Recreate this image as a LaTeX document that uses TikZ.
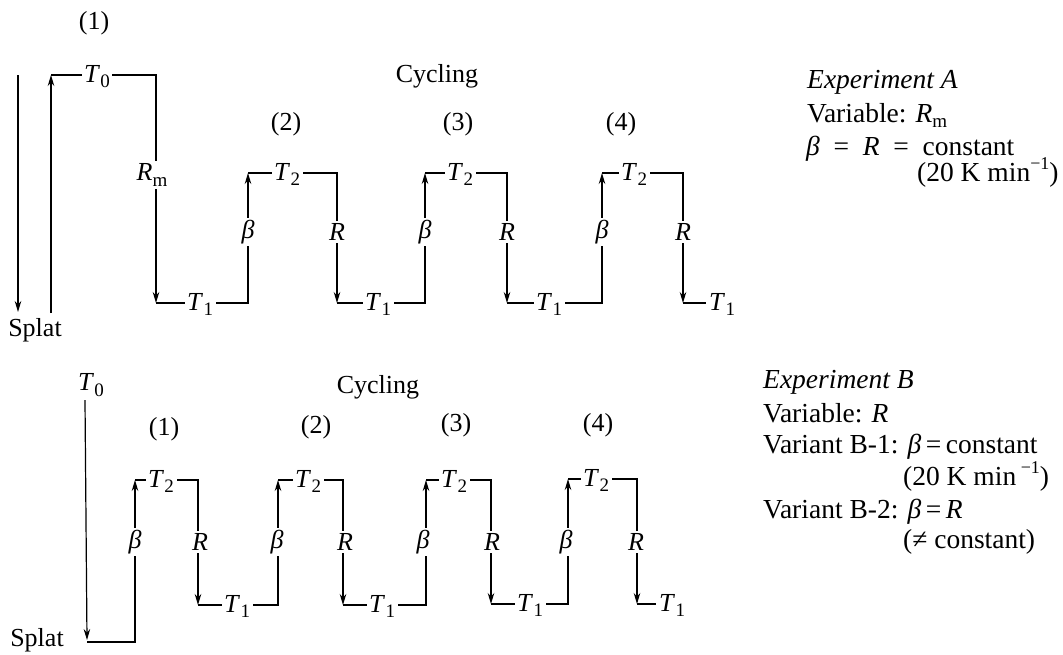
\documentclass[tikz,border=0pt]{standalone}
\usepackage{fontspec}
\setmainfont{Liberation Serif}
\usetikzlibrary{arrows.meta}
\tikzset{
  ln/.style={line width=1.2pt},
  arr/.style={ln,-{Stealth[length=11pt,width=6.5pt]}},
  lab/.style={fill=white,inner sep=2.5pt,font=\fontsize{26}{30}\selectfont},
  tl/.style={lab,anchor=base},
  num/.style={inner sep=0pt,font=\fontsize{26}{30}\selectfont},
  txt/.style={inner sep=0pt,anchor=base west,font=\fontsize{27.5}{30}\selectfont},
}
\newcommand\sbs[1]{\raisebox{-0.2em}{\fontsize{19}{20}\selectfont #1}}
\newcommand\sps[1]{\raisebox{0.42em}{\fontsize{18}{20}\selectfont #1}}
\newcommand\Tl[1]{\textit{T}\kern0.5pt\sbs{#1}}
\begin{document}
\begin{tikzpicture}[x=1pt,y=-1pt]
\useasboundingbox (0,0) rectangle (1063,654);
% ---------- top diagram ----------
\coordinate (a1) at (18,75);  \coordinate (a2) at (18,312);
\coordinate (b1) at (51,313); \coordinate (b2) at (51,75);
\coordinate (c1) at (156,75); \coordinate (c2) at (156,303);
\coordinate (d1) at (248,303); \coordinate (d2) at (248,173);
\coordinate (e1) at (337,173); \coordinate (e2) at (337,303);
\coordinate (f1) at (425,303); \coordinate (f2) at (425,173);
\coordinate (g1) at (507,173); \coordinate (g2) at (507,303);
\coordinate (h1) at (602,303); \coordinate (h2) at (602,173);
\coordinate (i1) at (683,173); \coordinate (i2) at (683,303);
\draw[arr] (a1) -- (a2);
\draw[arr] (b1) -- (b2);
\draw[arr] (b2) -- (c1) -- (c2);
\draw[arr] (c2) -- (d1) -- (d2);
\draw[arr] (d2) -- (e1) -- (e2);
\draw[arr] (e2) -- (f1) -- (f2);
\draw[arr] (f2) -- (g1) -- (g2);
\draw[arr] (g2) -- (h1) -- (h2);
\draw[arr] (h2) -- (i1) -- (i2);
\node[tl] (aT0) at (97,82) {\Tl0};
\node[lab] (aRm) at (152,175) {\textit{R}\sbs{m}};
\node[tl] (aT1a) at (200,310) {\Tl1};
\node[lab] (ab1) at (248,232) {\textit{β}};
\node[tl] (aT2a) at (287,180) {\Tl2};
\node[lab] (aR1) at (337,232) {\textit{R}};
\node[tl] (aT1b) at (378,310) {\Tl1};
\node[lab] (ab2) at (425,232) {\textit{β}};
\node[tl] (aT2b) at (460,180) {\Tl2};
\node[lab] (aR2) at (507,232) {\textit{R}};
\node[tl] (aT1c) at (549,310) {\Tl1};
\node[lab] (ab3) at (602,232) {\textit{β}};
\node[tl] (aT2c) at (634,180) {\Tl2};
\node[lab] (aR3) at (683,232) {\textit{R}};
\node[tl] (aT1d) at (722,310) {\Tl1};
\draw[ln] (i2) -- (i2 -| aT1d.west);
\node[num] (an1) at (94,23) {(1)};
\node[num] (an2) at (286,124) {(2)};
\node[num] (an3) at (458,124) {(3)};
\node[num] (an4) at (621,124) {(4)};
\node[num,anchor=base] (acyc) at (437,82) {Cycling};
\node[num] (asplat) at (35,330) {Splat};
\node[txt] (ea1) at (807,88) {\textit{Experiment A}};
\node[txt] (ea2) at (807,122) {Variable: \textit{R}\sbs{m}};
\node[txt] (ea3) at (806,155) {\textit{β}\enspace=\enspace\textit{R}\enspace=\enspace constant};
\node[txt] (ea4) at (917,181) {(20 K min\sps{−1})};
% ---------- bottom diagram ----------
\node[num] (bT0) at (91,385) {\Tl0};
\coordinate (p1) at (85,400); \coordinate (p2) at (87,640);
\coordinate (p3) at (87,642);
\coordinate (q1) at (135,642); \coordinate (q2) at (135,480);
\coordinate (r1) at (198,480); \coordinate (r2) at (198,605);
\coordinate (s1) at (278,605); \coordinate (s2) at (278,480);
\coordinate (t1) at (343,480); \coordinate (t2) at (343,605);
\coordinate (u1) at (426,605); \coordinate (u2) at (426,480);
\coordinate (v1) at (491,480); \coordinate (v2) at (491,604);
\coordinate (w1) at (568,604); \coordinate (w2) at (568,479);
\coordinate (z1) at (637,479); \coordinate (z2) at (637,604);
\draw[arr] (p1) -- (p2);
\draw[arr] (p3) -- (q1) -- (q2);
\draw[arr] (q2) -- (r1) -- (r2);
\draw[arr] (r2) -- (s1) -- (s2);
\draw[arr] (s2) -- (t1) -- (t2);
\draw[arr] (t2) -- (u1) -- (u2);
\draw[arr] (u2) -- (v1) -- (v2);
\draw[arr] (v2) -- (w1) -- (w2);
\draw[arr] (w2) -- (z1) -- (z2);
\node[tl] (bT2a) at (161,487) {\Tl2};
\node[lab] (bb1) at (135,542) {\textit{β}};
\node[lab] (bR1) at (200,542) {\textit{R}};
\node[tl] (bT1a) at (237,612) {\Tl1};
\node[lab] (bb2) at (277,542) {\textit{β}};
\node[tl] (bT2b) at (308,487) {\Tl2};
\node[lab] (bR2) at (345,542) {\textit{R}};
\node[tl] (bT1b) at (382,612) {\Tl1};
\node[lab] (bb3) at (423,542) {\textit{β}};
\node[tl] (bT2c) at (454,487) {\Tl2};
\node[lab] (bR3) at (492,542) {\textit{R}};
\node[tl] (bT1c) at (530,611) {\Tl1};
\node[lab] (bb4) at (566,542) {\textit{β}};
\node[tl] (bT2d) at (596,486) {\Tl2};
\node[lab] (bR4) at (636,542) {\textit{R}};
\node[tl] (bT1d) at (672,611) {\Tl1};
\draw[ln] (z2) -- (z2 -| bT1d.west);
\node[num] (bn1) at (164,429) {(1)};
\node[num] (bn2) at (316,427) {(2)};
\node[num] (bn3) at (456,425) {(3)};
\node[num] (bn4) at (598,425) {(4)};
\node[num,anchor=base] (bcyc) at (378,393) {Cycling};
\node[num] (bsplat) at (37,640) {Splat};
\node[txt] (eb1) at (763,388) {\textit{Experiment B}};
\node[txt] (eb2) at (763,422) {Variable: \textit{R}};
\node[txt] (eb3) at (763,453) {Variant B-1: \textit{β}\,=\,constant};
\node[txt] (eb4) at (903,485) {(20 K min\,\sps{−1})};
\node[txt] (eb5) at (763,518) {Variant B-2: \textit{β}\,=\,\textit{R}};
\node[txt] (eb6) at (903,548) {(≠ constant)};
\end{tikzpicture}
\end{document}
